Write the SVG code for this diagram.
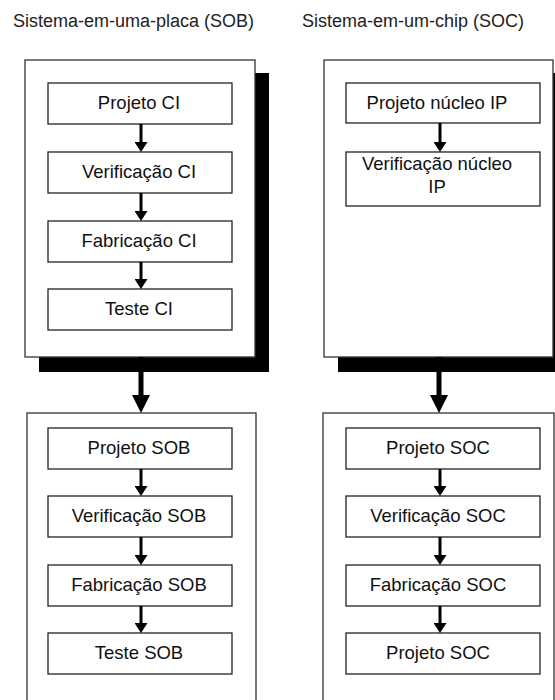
<svg xmlns="http://www.w3.org/2000/svg" width="555" height="700" viewBox="0 0 555 700">
<defs>
<style>
.title{font-family:"Liberation Sans",Arial,sans-serif;font-size:18px;fill:#222}
.lbl{font-family:"Liberation Sans",Arial,sans-serif;font-size:18.5px;fill:#111;text-anchor:middle}
.outer{fill:#fff;stroke:#333;stroke-width:1.3}
.shadow{fill:#000}
.box{fill:#fff;stroke:#222;stroke-width:1.3}
.a{stroke:#000;stroke-width:3;fill:none}
.A{stroke:#000;stroke-width:5;fill:none}
</style>
<marker id="ah" viewBox="0 0 10 13" markerWidth="10" markerHeight="13" refX="5" refY="6.5" orient="auto" markerUnits="userSpaceOnUse"><path d="M0,0 L10,6.5 L0,13 z" fill="#000"/></marker>
<marker id="AH" viewBox="0 0 18 18" markerWidth="18" markerHeight="18" refX="9" refY="9" orient="auto" markerUnits="userSpaceOnUse"><path d="M0,0 L18,9 L0,18 z" fill="#000"/></marker>
</defs>
<rect width="555" height="700" fill="#fff"/>
<text class="title" x="13" y="27">Sistema-em-uma-placa (SOB)</text>
<text class="title" x="302" y="27">Sistema-em-um-chip (SOC)</text>

<g id="sob-ci">
<rect class="shadow" x="39" y="73" width="230" height="299"/>
<rect class="outer" x="25" y="60" width="230" height="297"/>
</g>
<g id="soc-ip">
<rect class="shadow" x="338" y="73" width="229" height="299"/>
<rect class="outer" x="324" y="60" width="229" height="297"/>
</g>
<g id="sob-sys"><rect class="outer" x="27" y="413" width="229" height="300"/></g>
<g id="soc-sys"><rect class="outer" x="323" y="413" width="231" height="300"/></g>

<g id="projeto-ci"><rect class="box" x="48" y="83" width="184" height="41"/><text class="lbl" x="139" y="109">Projeto CI</text></g>
<g id="verificacao-ci"><rect class="box" x="48" y="152" width="184" height="41"/><text class="lbl" x="139" y="178">Verificação CI</text></g>
<g id="fabricacao-ci"><rect class="box" x="48" y="221" width="184" height="41"/><text class="lbl" x="139" y="247">Fabricação CI</text></g>
<g id="teste-ci"><rect class="box" x="48" y="289" width="184" height="41"/><text class="lbl" x="139" y="315">Teste CI</text></g>

<g id="projeto-ip"><rect class="box" x="346" y="83" width="194" height="40"/><text class="lbl" x="437" y="109">Projeto núcleo IP</text></g>
<g id="verificacao-ip"><rect class="box" x="346" y="152" width="194" height="54"/><text class="lbl" x="437" y="170">Verificação núcleo</text><text class="lbl" x="437" y="193">IP</text></g>

<g id="projeto-sob"><rect class="box" x="48" y="428" width="184" height="41"/><text class="lbl" x="139" y="454">Projeto SOB</text></g>
<g id="verificacao-sob"><rect class="box" x="48" y="496" width="184" height="41"/><text class="lbl" x="139" y="522">Verificação SOB</text></g>
<g id="fabricacao-sob"><rect class="box" x="48" y="565" width="184" height="41"/><text class="lbl" x="139" y="591">Fabricação SOB</text></g>
<g id="teste-sob"><rect class="box" x="48" y="633" width="184" height="41"/><text class="lbl" x="139" y="659">Teste SOB</text></g>

<g id="projeto-soc"><rect class="box" x="346" y="428" width="194" height="41"/><text class="lbl" x="438" y="454">Projeto SOC</text></g>
<g id="verificacao-soc"><rect class="box" x="346" y="496" width="194" height="41"/><text class="lbl" x="438" y="522">Verificação SOC</text></g>
<g id="fabricacao-soc"><rect class="box" x="346" y="565" width="194" height="41"/><text class="lbl" x="438" y="591">Fabricação SOC</text></g>
<g id="projeto-soc-2"><rect class="box" x="346" y="633" width="194" height="41"/><text class="lbl" x="438" y="659">Projeto SOC</text></g>

<g id="connectors">
<line class="a" x1="141" y1="124" x2="141" y2="147" marker-end="url(#ah)"/>
<line class="a" x1="141" y1="193" x2="141" y2="216" marker-end="url(#ah)"/>
<line class="a" x1="141" y1="262" x2="141" y2="284" marker-end="url(#ah)"/>
<line class="a" x1="440" y1="123" x2="440" y2="147" marker-end="url(#ah)"/>
<line class="A" x1="141" y1="357" x2="141" y2="404" marker-end="url(#AH)"/>
<line class="A" x1="439" y1="357" x2="439" y2="404" marker-end="url(#AH)"/>
<line class="a" x1="141" y1="469" x2="141" y2="491" marker-end="url(#ah)"/>
<line class="a" x1="141" y1="537" x2="141" y2="560" marker-end="url(#ah)"/>
<line class="a" x1="141" y1="606" x2="141" y2="628" marker-end="url(#ah)"/>
<line class="a" x1="440" y1="469" x2="440" y2="491" marker-end="url(#ah)"/>
<line class="a" x1="440" y1="537" x2="440" y2="560" marker-end="url(#ah)"/>
<line class="a" x1="440" y1="606" x2="440" y2="628" marker-end="url(#ah)"/>
</g>
</svg>
